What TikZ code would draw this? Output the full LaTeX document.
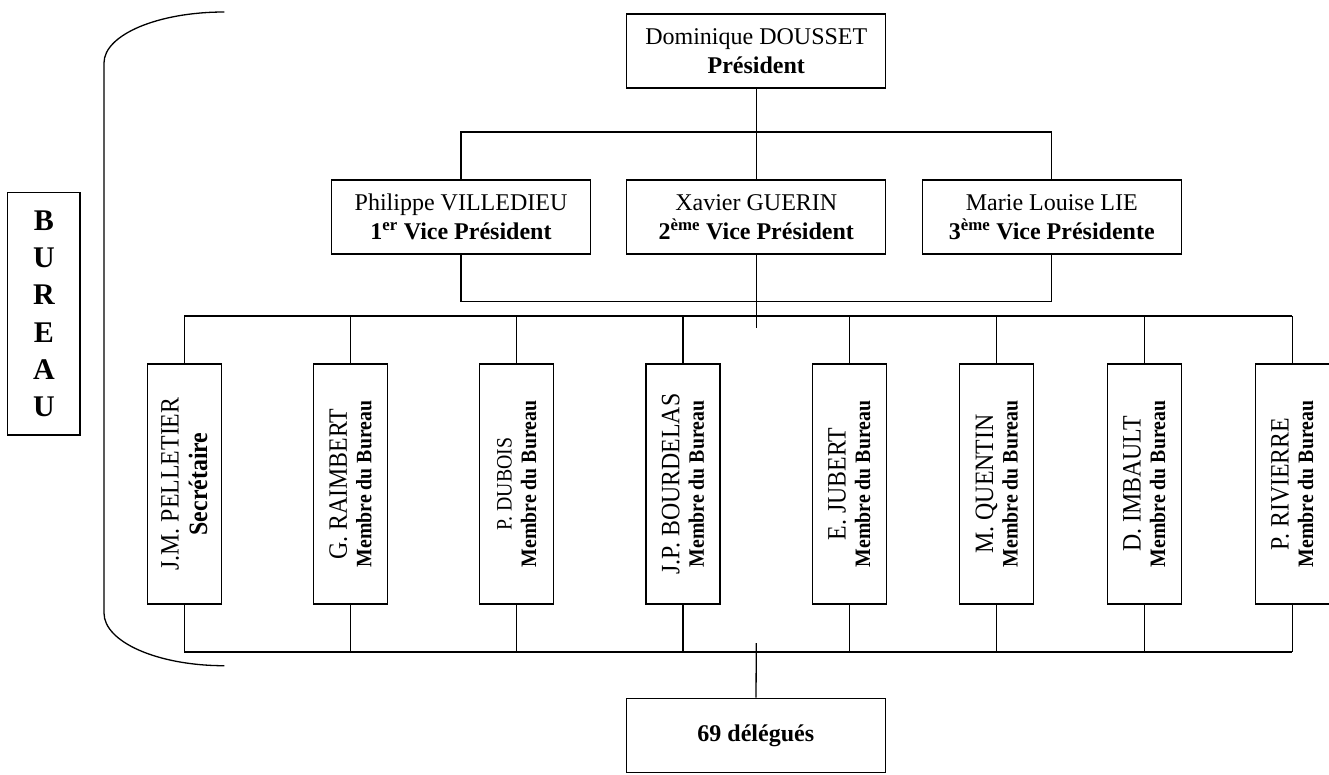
\documentclass[tikz,border=0pt]{standalone}
\usepackage{fontspec}
\setmainfont{Liberation Serif}
\newfontfamily\rotfont{Liberation Serif}[FakeStretch=0.9]
\begin{document}
\begin{tikzpicture}[x=1pt,y=-1pt,
  box/.style={draw,line width=1.3pt,inner sep=0pt,align=center,minimum width=259pt,minimum height=74pt},
  mbox/.style={draw,line width=1.3pt,inner sep=0pt,align=center,rotate=90,minimum width=240pt,minimum height=74pt,
    font=\rotfont\fontsize{22}{24.5}\selectfont},
  wire/.style={line width=1.3pt},
  big/.style={font=\fontsize{24}{28.7}\selectfont}]
\useasboundingbox (0,0) rectangle (1329,774);
% Bureau label
\node[draw,line width=1.3pt,inner sep=0pt,minimum width=72.3pt,minimum height=242.3pt,align=center,
  font=\fontsize{30}{37.2}\selectfont\bfseries] (bureau) at (43.9,313.9) {B\\U\\R\\E\\A\\U};
% bracket
\draw[wire] (224.3,12) .. controls (157.7,12) and (104,34.8) .. (104,63) -- (104,613)
  .. controls (104,642.1) and (158,665.7) .. (224.3,665.7);
% president and vice presidents
\node[box,big] (pres) at (756.3,51) {Dominique DOUSSET\\\textbf{Président}};
\node[box,big] (vp1) at (461,217) {Philippe VILLEDIEU\\\textbf{1\textsuperscript{er} Vice Président}};
\node[box,big] (vp2) at (756.3,217) {Xavier GUERIN\\\textbf{2\textsuperscript{ème} Vice Président}};
\node[box,big] (vp3) at (1051.8,217) {Marie Louise LIE\\\textbf{3\textsuperscript{ème} Vice Présidente}};
% members
\newcommand{\mname}[1]{{\fontsize{26.5}{26.5}\selectfont #1}}
\newcommand{\mrole}[1]{{\bfseries #1}}
\node[mbox,font=\rotfont\fontsize{26.5}{28.5}\selectfont] (m1) at (184.3,484) {J.M. PELLETIER\\\textbf{Secrétaire}};
\node[mbox] (m2) at (350.5,484) {\mname{G. RAIMBERT}\\\mrole{Membre du Bureau}};
\node[mbox] (m3) at (516.7,484) {P. DUBOIS\\\mrole{Membre du Bureau}};
\node[mbox] (m4) at (683,484) {\mname{J.P. BOURDELAS}\\\mrole{Membre du Bureau}};
\node[mbox] (m5) at (849.3,484) {\mname{E. JUBERT}\\\mrole{Membre du Bureau}};
\node[mbox] (m6) at (996.7,484) {\mname{M. QUENTIN}\\\mrole{Membre du Bureau}};
\node[mbox] (m7) at (1144.3,484) {\mname{D. IMBAULT}\\\mrole{Membre du Bureau}};
\node[mbox] (m8) at (1292.3,484) {\mname{P. RIVIERRE}\\\mrole{Membre du Bureau}};
% delegates
\node[box,minimum height=74.4pt,font=\fontsize{24}{28}\selectfont\bfseries] (deleg) at (755.8,735.5) {69 délégués};
% connectors
\coordinate (topbus) at (756.3,132);
\coordinate (lowbus) at (756.3,301.5);
\coordinate (midend) at (756.3,328.3);
\coordinate (mtop) at (756.3,316);
\coordinate (mbot) at (756.3,652);
\coordinate (dtop) at (756.3,643);
\draw[wire] (pres) -- (vp2);
\draw[wire] (vp1) |- (topbus) -| (vp3);
\draw[wire] (vp1) |- (lowbus) -| (vp3);
\draw[wire] (vp2) -- (midend);
\draw[wire] (m1 |- mtop) -- (m8 |- mtop);
\draw[wire] (m1 |- mbot) -- (m8 |- mbot);
\foreach \i in {1,...,8}{
  \draw[wire] (m\i) -- (m\i |- mtop);
  \draw[wire] (m\i) -- (m\i |- mbot);
}
\draw[wire] (dtop) -- (deleg);
\end{tikzpicture}
\end{document}
